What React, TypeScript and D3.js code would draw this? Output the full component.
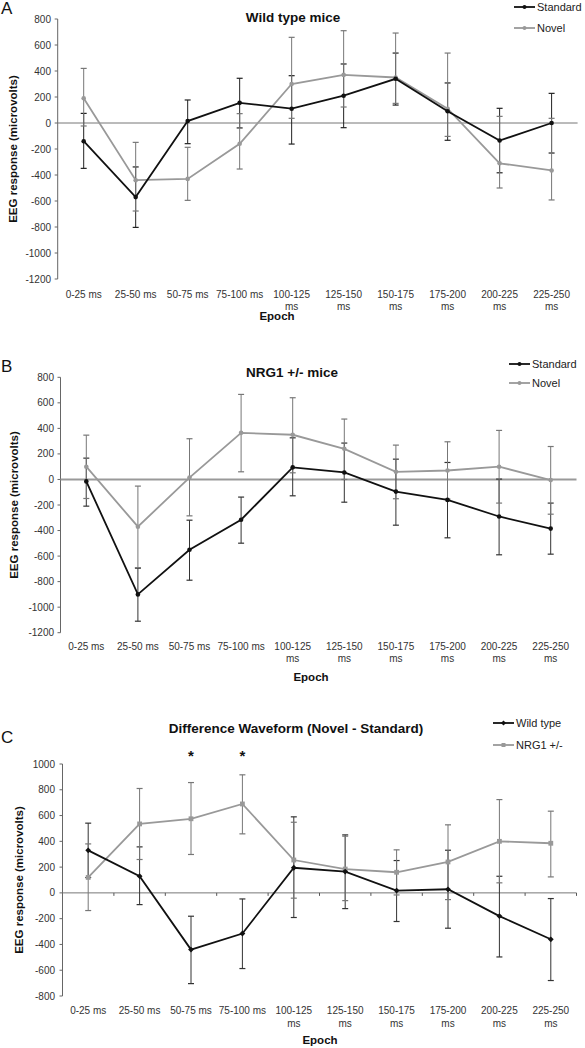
import React from 'react';
import * as d3 from 'd3';

const epochs = ['0-25 ms', '25-50 ms', '50-75 ms', '75-100 ms', '100-125 ms', '125-150 ms', '150-175 ms', '175-200 ms', '200-225 ms', '225-250 ms'];

const ticksAB = [800, 600, 400, 200, 0, -200, -400, -600, -800, -1000, -1200];
const ticksC = [1000, 800, 600, 400, 200, 0, -200, -400, -600, -800];

// Panel A: wild type mice
const wtStandard = [-140, -570, 15, 155, 110, 210, 340, 90, -135, 0];
const wtStandardLo = [-349, -803, -159, -38, -162, -36, 138, -133, -383, -231];
const wtStandardHi = [74, -338, 177, 344, 364, 454, 538, 308, 113, 228];
const wtNovel = [190, -440, -430, -160, 300, 370, 350, 110, -310, -365];
const wtNovelLo = [-23, -677, -595, -354, 36, 123, 151, -103, -500, -592];
const wtNovelHi = [420, -149, -187, 72, 659, 710, 692, 538, 51, 36];

// Panel B: NRG1 +/- mice
const nrgStandard = [-15, -900, -550, -315, 95, 55, -95, -160, -290, -385];
const nrgStandardLo = [-209, -1110, -789, -499, -128, -178, -358, -457, -590, -585];
const nrgStandardHi = [167, -695, -319, -138, 326, 285, 159, 133, 3, -185];
const nrgNovel = [100, -370, 15, 365, 350, 240, 60, 70, 100, -5];
const nrgNovelLo = [-149, -690, -285, 60, 52, 0, -151, -154, -185, -272];
const nrgNovelHi = [347, -52, 319, 666, 640, 473, 269, 295, 384, 258];

// Panel C: difference waveform
const diffWT = [330, 130, -440, -315, 195, 165, 18, 28, -180, -360];
const diffWTLo = [119, -91, -704, -587, -191, -122, -222, -274, -497, -680];
const diffWTHi = [541, 357, -181, -47, 590, 450, 251, 331, 129, -44];
const diffNRG = [120, 535, 575, 690, 255, 185, 160, 240, 400, 385];
const diffNRGLo = [-137, 259, 298, 458, -41, -60, -16, -52, 78, 124];
const diffNRGHi = [380, 810, 856, 916, 548, 440, 334, 528, 724, 634];

const starEpochs = ['50-75 ms', '75-100 ms'];

const FONT = '"Liberation Sans", Arial, Helvetica, sans-serif';

type Series = {
  name: string;
  values: number[];
  lo: number[];
  hi: number[];
  color: string;
  barColor: string;
  marker: 'circle' | 'square' | 'diamond';
};

type PanelProps = {
  letter: string;
  letterY: number;
  title: string;
  titleX: number;
  titleY: number;
  x0: number;
  x1: number;
  yTop: number;
  yBottom: number;
  domain: [number, number];
  ticks: number[];
  tickLabelX: number;
  series: Series[];
  legendX: number;
  legendY: number[];
  xLabelY: number;
  epochX: number;
  epochY: number;
  yLabelX: number;
  zeroColor: string;
  zeroWidth: number;
  catTicks: boolean;
  stars?: string[];
  starY?: number;
};

function Marker({ type, x, y, color, size }: { type: string; x: number; y: number; color: string; size: number }) {
  if (type === 'square') {
    return <rect x={x - size} y={y - size} width={size * 2} height={size * 2} fill={color} />;
  }
  if (type === 'diamond') {
    const s = size + 0.6;
    return <path d={`M${x},${y - s}L${x + s},${y}L${x},${y + s}L${x - s},${y}Z`} fill={color} />;
  }
  return <circle cx={x} cy={y} r={size} fill={color} />;
}

function Panel(p: PanelProps) {
  const x = d3.scaleBand<string>().domain(epochs).range([p.x0, p.x1]);
  const y = d3.scaleLinear().domain(p.domain).range([p.yBottom, p.yTop]);
  const cx = (e: string) => (x(e) as number) + x.bandwidth() / 2;
  const line = d3
    .line<number>()
    .x((_, i) => cx(epochs[i]))
    .y((d) => y(d));
  const cap = 3;
  return (
    <g>
      <text x={1} y={p.letterY} fontSize={17} fontFamily={FONT} fill="#111">
        {p.letter}
      </text>
      <text x={p.titleX} y={p.titleY} fontSize={13.5} fontWeight="bold" fontFamily={FONT} textAnchor="middle" fill="#111">
        {p.title}
      </text>
      {/* y axis */}
      <line x1={p.x0} x2={p.x0} y1={y(p.domain[1])} y2={y(p.domain[0])} stroke="#666" strokeWidth={1} />
      {p.ticks.map((t) => (
        <g key={t}>
          <line x1={p.x0 - 3} x2={p.x0} y1={y(t)} y2={y(t)} stroke="#666" strokeWidth={1} />
          <text x={p.tickLabelX} y={y(t) + 3.5} fontSize={10} fontFamily={FONT} textAnchor="end" fill="#333">
            {t}
          </text>
        </g>
      ))}
      <text
        transform={`translate(${p.yLabelX},${(p.yTop + p.yBottom) / 2}) rotate(-90)`}
        fontSize={11.5}
        fontWeight="bold"
        fontFamily={FONT}
        textAnchor="middle"
        fill="#111"
      >
        EEG response (microvolts)
      </text>
      {/* zero line */}
      <line x1={p.x0} x2={p.x1} y1={y(0)} y2={y(0)} stroke={p.zeroColor} strokeWidth={p.zeroWidth} />
      {p.catTicks &&
        epochs.map((e) => (
          <line key={e} x1={(x(e) as number) + x.bandwidth()} x2={(x(e) as number) + x.bandwidth()} y1={y(0)} y2={y(0) + 3} stroke="#555" />
        ))}
      {/* x labels */}
      {epochs.map((e) => {
        const parts = /^\d{3}/.test(e) ? e.split(' ') : [e];
        return (
          <text key={e} x={cx(e)} y={p.xLabelY} fontSize={10} fontFamily={FONT} textAnchor="middle" fill="#333">
            {parts.map((s, i) => (
              <tspan key={i} x={cx(e)} dy={i === 0 ? 0 : 12.5}>
                {s}
              </tspan>
            ))}
          </text>
        );
      })}
      <text x={p.epochX} y={p.epochY} fontSize={11.5} fontWeight="bold" fontFamily={FONT} textAnchor="middle" fill="#111">
        Epoch
      </text>
      {/* error bars */}
      {p.series.map((s) => (
        <g key={s.name + 'err'}>
          {epochs.map((e, i) => (
            <g key={e}>
              <line x1={cx(e)} x2={cx(e)} y1={y(s.lo[i])} y2={y(s.hi[i])} stroke={s.barColor} strokeWidth={1} />
              <line x1={cx(e) - cap} x2={cx(e) + cap} y1={y(s.lo[i])} y2={y(s.lo[i])} stroke={s.barColor} strokeWidth={1.2} />
              <line x1={cx(e) - cap} x2={cx(e) + cap} y1={y(s.hi[i])} y2={y(s.hi[i])} stroke={s.barColor} strokeWidth={1.2} />
            </g>
          ))}
        </g>
      ))}
      {/* lines */}
      {p.series
        .slice()
        .reverse()
        .map((s) => (
          <g key={s.name}>
            <path d={line(s.values) || ''} fill="none" stroke={s.color} strokeWidth={1.8} />
            {s.values.map((v, i) => (
              <Marker key={i} type={s.marker} x={cx(epochs[i])} y={y(v)} color={s.color} size={s.marker === 'square' ? 2.4 : 2.3} />
            ))}
          </g>
        ))}
      {/* stars */}
      {p.stars &&
        p.stars.map((e) => (
          <text key={e} x={cx(e)} y={p.starY} fontSize={15} fontWeight="bold" fontFamily={FONT} textAnchor="middle" fill="#111">
            *
          </text>
        ))}
      {/* legend */}
      {p.series.map((s, i) => (
        <g key={s.name + 'leg'}>
          <line x1={p.legendX - 23} x2={p.legendX - 2} y1={p.legendY[i]} y2={p.legendY[i]} stroke={s.color} strokeWidth={1.8} />
          <Marker type={s.marker} x={p.legendX - 12.5} y={p.legendY[i]} color={s.color} size={2} />
          <text x={p.legendX} y={p.legendY[i] + 4} fontSize={11} fontFamily={FONT} fill="#222">
            {s.name}
          </text>
        </g>
      ))}
    </g>
  );
}

export default function App() {
  return (
    <svg width={585} height={1048} style={{ position: 'absolute', left: 0, top: 0, background: '#fff' }}>
      <rect x={0} y={0} width={585} height={1048} fill="#fff" />
      <Panel
        letter="A"
        letterY={14}
        title="Wild type mice"
        titleX={293}
        titleY={22}
        x0={57.7}
        x1={577.6}
        yTop={19}
        yBottom={279}
        domain={[-1200, 800]}
        ticks={ticksAB}
        tickLabelX={51}
        series={[
          { name: 'Standard', values: wtStandard, lo: wtStandardLo, hi: wtStandardHi, color: '#111', barColor: '#222', marker: 'circle' },
          { name: 'Novel', values: wtNovel, lo: wtNovelLo, hi: wtNovelHi, color: '#999', barColor: '#777', marker: 'circle' },
        ]}
        legendX={537}
        legendY={[7, 28]}
        xLabelY={297.5}
        epochX={277}
        epochY={320}
        yLabelX={17}
        zeroColor="#777"
        zeroWidth={1}
        catTicks={false}
      />
      <Panel
        letter="B"
        letterY={372}
        title="NRG1 +/- mice"
        titleX={292}
        titleY={377}
        x0={60.5}
        x1={576.5}
        yTop={377.3}
        yBottom={632.7}
        domain={[-1200, 800]}
        ticks={ticksAB}
        tickLabelX={54}
        series={[
          { name: 'Standard', values: nrgStandard, lo: nrgStandardLo, hi: nrgStandardHi, color: '#111', barColor: '#333', marker: 'circle' },
          { name: 'Novel', values: nrgNovel, lo: nrgNovelLo, hi: nrgNovelHi, color: '#999', barColor: '#777', marker: 'circle' },
        ]}
        legendX={532}
        legendY={[364, 383]}
        xLabelY={649.5}
        epochX={311}
        epochY={681}
        yLabelX={18}
        zeroColor="#999"
        zeroWidth={2}
        catTicks={false}
      />
      <Panel
        letter="C"
        letterY={743}
        title="Difference Waveform (Novel - Standard)"
        titleX={296}
        titleY={733}
        x0={62.5}
        x1={576.5}
        yTop={764}
        yBottom={996}
        domain={[-800, 1000]}
        ticks={ticksC}
        tickLabelX={55}
        series={[
          { name: 'Wild type', values: diffWT, lo: diffWTLo, hi: diffWTHi, color: '#111', barColor: '#333', marker: 'diamond' },
          { name: 'NRG1 +/-', values: diffNRG, lo: diffNRGLo, hi: diffNRGHi, color: '#999', barColor: '#777', marker: 'square' },
        ]}
        legendX={516}
        legendY={[723, 745]}
        xLabelY={1014}
        epochX={320}
        epochY={1044}
        yLabelX={23}
        zeroColor="#777"
        zeroWidth={1}
        catTicks={true}
        stars={starEpochs}
        starY={761}
      />
    </svg>
  );
}
